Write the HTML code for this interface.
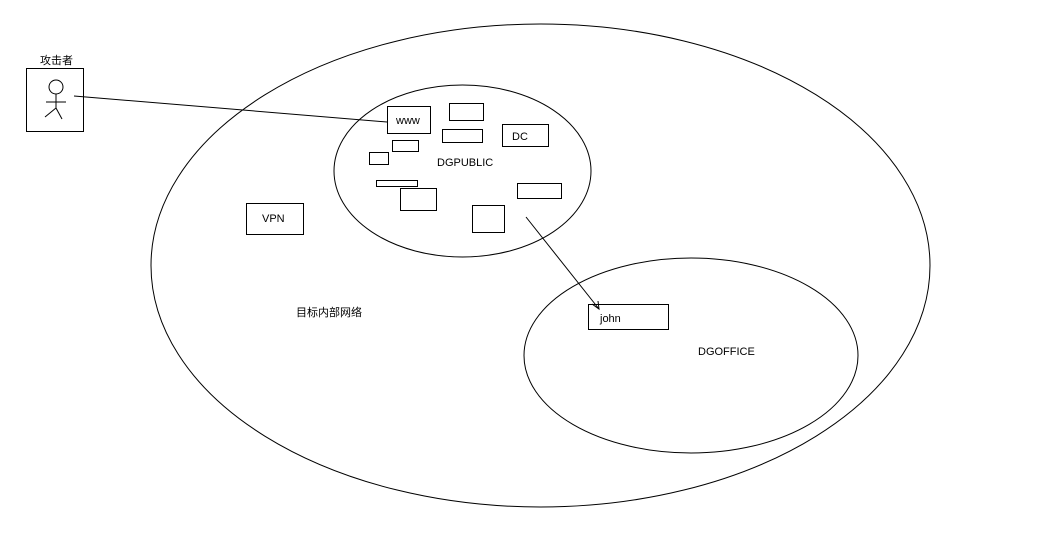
<!DOCTYPE html>
<html><head><meta charset="utf-8"><style>
html,body{margin:0;padding:0;background:#fff;width:1049px;height:551px;overflow:hidden}
text{font-family:"Liberation Sans","Noto Sans CJK SC",sans-serif;font-size:11px;fill:#000}
</style></head><body>
<svg width="1049" height="551" xmlns="http://www.w3.org/2000/svg">
<g fill="none" stroke="#000" stroke-width="1">
<ellipse cx="540.5" cy="265.5" rx="389.5" ry="241.5"/>
<ellipse cx="462.5" cy="171" rx="128.5" ry="86"/>
<ellipse cx="691" cy="355.5" rx="167" ry="97.5"/>
<rect x="26.5" y="68.5" width="57" height="63"/>
<circle cx="56" cy="87" r="7"/>
<line x1="56" y1="94" x2="56" y2="108"/>
<line x1="46" y1="102" x2="66" y2="102"/>
<line x1="56" y1="108" x2="45" y2="117"/>
<line x1="56" y1="108" x2="62" y2="119"/>
<line x1="74" y1="96" x2="387" y2="122"/>
<rect x="387.5" y="106.5" width="43" height="27"/>
<rect x="449.5" y="103.5" width="34" height="17"/>
<rect x="442.5" y="129.5" width="40" height="13"/>
<rect x="502.5" y="124.5" width="46" height="22"/>
<rect x="392.5" y="140.5" width="26" height="11"/>
<rect x="369.5" y="152.5" width="19" height="12"/>
<rect x="376.5" y="180.5" width="41" height="6"/>
<rect x="400.5" y="188.5" width="36" height="22"/>
<rect x="472.5" y="205.5" width="32" height="27"/>
<rect x="517.5" y="183.5" width="44" height="15"/>
<rect x="246.5" y="203.5" width="57" height="31"/>
<rect x="588.5" y="304.5" width="80" height="25"/>
<line x1="526" y1="217" x2="599" y2="309"/>
<polyline points="592,304 599,309 598,301"/>
</g>
<text x="40" y="64">攻击者</text>
<text x="396" y="124">www</text>
<text x="512" y="140">DC</text>
<text x="437" y="166">DGPUBLIC</text>
<text x="262" y="222">VPN</text>
<text x="296" y="316">目标内部网络</text>
<text x="600" y="322">john</text>
<text x="698" y="355">DGOFFICE</text>
</svg>
</body></html>
